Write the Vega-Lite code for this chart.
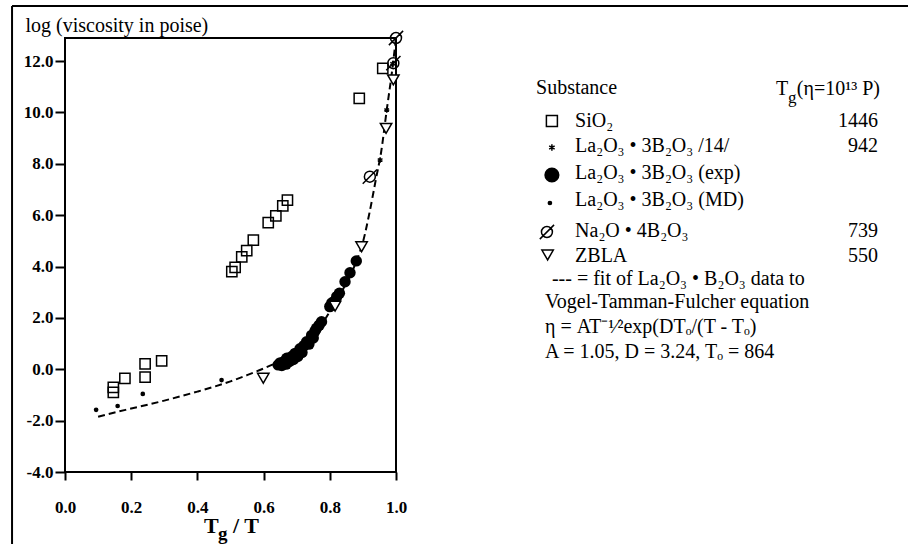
{
  "$schema": "https://vega.github.io/schema/vega-lite/v6.json",
  "width": 331,
  "height": 434,
  "autosize": {"type": "none"},
  "padding": {"left": 65, "top": 38, "right": 512, "bottom": 72},
  "background": "white",
  "config": {
    "view": {"stroke": "black", "strokeWidth": 2},
    "font": "Liberation Serif"
  },
  "datasets": {
    "pts": [
      {"s": "SiO2", "x": 0.146, "y": -0.70},
      {"s": "SiO2", "x": 0.146, "y": -0.90},
      {"s": "SiO2", "x": 0.181, "y": -0.35},
      {"s": "SiO2", "x": 0.242, "y": 0.21},
      {"s": "SiO2", "x": 0.242, "y": -0.31},
      {"s": "SiO2", "x": 0.292, "y": 0.33},
      {"s": "SiO2", "x": 0.504, "y": 3.80},
      {"s": "SiO2", "x": 0.514, "y": 3.97},
      {"s": "SiO2", "x": 0.534, "y": 4.38},
      {"s": "SiO2", "x": 0.549, "y": 4.62},
      {"s": "SiO2", "x": 0.569, "y": 5.03},
      {"s": "SiO2", "x": 0.614, "y": 5.71},
      {"s": "SiO2", "x": 0.637, "y": 5.97},
      {"s": "SiO2", "x": 0.658, "y": 6.36},
      {"s": "SiO2", "x": 0.672, "y": 6.59},
      {"s": "SiO2", "x": 0.889, "y": 10.55},
      {"s": "SiO2", "x": 0.960, "y": 11.72},
      {"s": "LMD", "x": 0.094, "y": -1.58},
      {"s": "LMD", "x": 0.159, "y": -1.43},
      {"s": "LMD", "x": 0.235, "y": -0.96},
      {"s": "LMD", "x": 0.473, "y": -0.42},
      {"s": "Lexp", "x": 0.644, "y": 0.17},
      {"s": "Lexp", "x": 0.650, "y": 0.25},
      {"s": "Lexp", "x": 0.655, "y": 0.15},
      {"s": "Lexp", "x": 0.662, "y": 0.30},
      {"s": "Lexp", "x": 0.668, "y": 0.20},
      {"s": "Lexp", "x": 0.670, "y": 0.43},
      {"s": "Lexp", "x": 0.678, "y": 0.30},
      {"s": "Lexp", "x": 0.685, "y": 0.50},
      {"s": "Lexp", "x": 0.690, "y": 0.38},
      {"s": "Lexp", "x": 0.695, "y": 0.62},
      {"s": "Lexp", "x": 0.703, "y": 0.50},
      {"s": "Lexp", "x": 0.710, "y": 0.80},
      {"s": "Lexp", "x": 0.716, "y": 0.65},
      {"s": "Lexp", "x": 0.722, "y": 0.92},
      {"s": "Lexp", "x": 0.730, "y": 1.07},
      {"s": "Lexp", "x": 0.737, "y": 0.98},
      {"s": "Lexp", "x": 0.745, "y": 1.32},
      {"s": "Lexp", "x": 0.750, "y": 1.22},
      {"s": "Lexp", "x": 0.755, "y": 1.48},
      {"s": "Lexp", "x": 0.760, "y": 1.60},
      {"s": "Lexp", "x": 0.768, "y": 1.72},
      {"s": "Lexp", "x": 0.775, "y": 1.85},
      {"s": "Lexp", "x": 0.800, "y": 2.44},
      {"s": "Lexp", "x": 0.806, "y": 2.58},
      {"s": "Lexp", "x": 0.811, "y": 2.62},
      {"s": "Lexp", "x": 0.821, "y": 2.83},
      {"s": "Lexp", "x": 0.829, "y": 2.96},
      {"s": "Lexp", "x": 0.846, "y": 3.41},
      {"s": "Lexp", "x": 0.861, "y": 3.76},
      {"s": "Lexp", "x": 0.880, "y": 4.22},
      {"s": "L14", "x": 0.952, "y": 8.15},
      {"s": "L14", "x": 0.972, "y": 10.10},
      {"s": "L14", "x": 0.990, "y": 11.90},
      {"s": "Na", "x": 0.921, "y": 7.50},
      {"s": "Na", "x": 0.992, "y": 11.92},
      {"s": "Na", "x": 1.0, "y": 12.90},
      {"s": "ZBLA", "x": 0.599, "y": -0.35},
      {"s": "ZBLA", "x": 0.816, "y": 2.46},
      {"s": "ZBLA", "x": 0.896, "y": 4.77},
      {"s": "ZBLA", "x": 0.970, "y": 9.38},
      {"s": "ZBLA", "x": 0.992, "y": 11.27}
    ],
    "fit": [
      {"x": 0.10, "y": -1.85}, {"x": 0.15, "y": -1.68}, {"x": 0.20, "y": -1.53},
      {"x": 0.25, "y": -1.38}, {"x": 0.30, "y": -1.22}, {"x": 0.35, "y": -1.05},
      {"x": 0.40, "y": -0.87}, {"x": 0.45, "y": -0.68}, {"x": 0.50, "y": -0.47},
      {"x": 0.55, "y": -0.23}, {"x": 0.60, "y": 0.03}, {"x": 0.65, "y": 0.32},
      {"x": 0.70, "y": 0.66}, {"x": 0.75, "y": 1.25}, {"x": 0.80, "y": 2.25},
      {"x": 0.83, "y": 2.90}, {"x": 0.86, "y": 3.60}, {"x": 0.88, "y": 4.20},
      {"x": 0.90, "y": 4.95}, {"x": 0.92, "y": 6.10}, {"x": 0.94, "y": 7.45},
      {"x": 0.955, "y": 8.45}, {"x": 0.972, "y": 10.10}, {"x": 0.986, "y": 11.40},
      {"x": 1.0, "y": 12.90}
    ],
    "legsym": [
      {"s": "SiO2", "x": 1.471, "y": 9.668},
      {"s": "L14", "x": 1.471, "y": 8.636},
      {"s": "Lexp", "x": 1.471, "y": 7.565},
      {"s": "LMD", "x": 1.465, "y": 6.475},
      {"s": "Na", "x": 1.456, "y": 5.345},
      {"s": "ZBLA", "x": 1.458, "y": 4.45}
    ],
    "legtext": [
      {"x": 1.423, "y": 10.72, "t": "Substance"},
      {"x": 2.148, "y": 10.68, "t": "T"},
      {"x": 2.211, "y": 10.68, "t": "(η=10¹³ P)"},
      {"x": 1.541, "y": 9.434, "t": "SiO₂"},
      {"x": 1.541, "y": 8.461, "t": "La₂O₃ • 3B₂O₃ /14/"},
      {"x": 1.541, "y": 7.409, "t": "La₂O₃ • 3B₂O₃ (exp)"},
      {"x": 1.541, "y": 6.358, "t": "La₂O₃ • 3B₂O₃ (MD)"},
      {"x": 1.541, "y": 5.151, "t": "Na₂O • 4B₂O₃"},
      {"x": 1.541, "y": 4.177, "t": "ZBLA"},
      {"x": 1.471, "y": 3.282, "t": "--- = fit of La₂O₃ • B₂O₃ data to"},
      {"x": 1.450, "y": 2.386, "t": "Vogel-Tamman-Fulcher equation"},
      {"x": 1.450, "y": 1.412, "t": "η = AT⁻¹⁄²exp(DTₒ/(T - Tₒ)"},
      {"x": 1.450, "y": 0.439, "t": "A = 1.05,  D = 3.24,  Tₒ = 864"}
    ],
    "legnum": [
      {"x": 2.456, "y": 9.434, "t": "1446"},
      {"x": 2.456, "y": 8.461, "t": "942"},
      {"x": 2.456, "y": 5.151, "t": "739"},
      {"x": 2.456, "y": 4.177, "t": "550"}
    ],
    "legsub": [
      {"x": 2.184, "y": 10.68, "t": "g"}
    ],
    "xt": [
      {"x": 0.420, "y": -6.376, "t": "T"},
      {"x": 0.5076, "y": -6.376, "t": "/ T"}
    ],
    "xsub": [
      {"x": 0.462, "y": -6.376, "t": "g"}
    ],
    "frame": [
      {"x": -0.16, "x2": 2.56, "y": 14.15, "y2": 14.15},
      {"x": -0.16, "x2": -0.16, "y": 14.15, "y2": -7.0}
    ]
  },
  "encoding": {
    "x": {
      "field": "x",
      "type": "quantitative",
      "scale": {"domain": [0, 1], "nice": false, "zero": false},
      "axis": {
        "values": [0, 0.2, 0.4, 0.6, 0.8, 1.0],
        "labelExpr": "format(datum.value, '.1f')",
        "grid": false,
        "domain": false,
        "tickSize": 8,
        "tickWidth": 2,
        "tickColor": "black",
        "labelFont": "Liberation Serif",
        "labelFontSize": 17,
        "labelFontWeight": "bold",
        "labelColor": "black",
        "labelPadding": 32,
        "labelBaseline": "alphabetic",
        "labelFlush": false,
        "labelOverlap": false,
        "title": null
      }
    },
    "y": {
      "field": "y",
      "type": "quantitative",
      "scale": {"domain": [-4, 12.9], "nice": false, "zero": false},
      "axis": {
        "values": [-4, -2, 0, 2, 4, 6, 8, 10, 12],
        "labelExpr": "(datum.value < 0 ? '-' : '') + format(abs(datum.value), '.1f')",
        "grid": false,
        "domain": false,
        "tickSize": 10,
        "tickWidth": 2,
        "tickColor": "black",
        "labelFont": "Liberation Serif",
        "labelFontSize": 17,
        "labelFontWeight": "bold",
        "labelColor": "black",
        "labelPadding": 2,
        "labelFlush": false,
        "labelOverlap": false,
        "title": "log (viscosity in poise)",
        "titleAngle": 0,
        "titleAlign": "left",
        "titleBaseline": "alphabetic",
        "titleX": -40,
        "titleY": -7,
        "titleFont": "Liberation Serif",
        "titleFontSize": 20,
        "titleFontWeight": "normal",
        "titleColor": "black"
      }
    }
  },
  "layer": [
    {
      "data": {"name": "frame"},
      "mark": {"type": "rule", "color": "black", "strokeWidth": 2},
      "encoding": {"x2": {"field": "x2"}, "y2": {"field": "y2"}}
    },
    {
      "data": {"name": "fit"},
      "mark": {"type": "line", "color": "black", "strokeWidth": 2, "strokeDash": [7, 4], "interpolate": "monotone"},
      "encoding": {}
    },
    {
      "data": {"name": "pts"},
      "transform": [{"filter": "datum.s === 'SiO2'"}],
      "mark": {"type": "point", "shape": "square", "filled": false, "stroke": "black", "strokeWidth": 1.5, "size": 105, "opacity": 1}
    },
    {
      "data": {"name": "pts"},
      "transform": [{"filter": "datum.s === 'LMD'"}],
      "mark": {"type": "point", "shape": "circle", "filled": true, "fill": "black", "size": 22, "opacity": 1}
    },
    {
      "data": {"name": "pts"},
      "transform": [{"filter": "datum.s === 'Lexp'"}],
      "mark": {"type": "point", "shape": "circle", "filled": true, "fill": "black", "size": 130, "opacity": 1}
    },
    {
      "data": {"name": "pts"},
      "transform": [{"filter": "datum.s === 'L14'"}],
      "mark": {"type": "point", "shape": "M0,-1L0,1M-0.866,-0.5L0.866,0.5M-0.866,0.5L0.866,-0.5", "filled": false, "stroke": "black", "strokeWidth": 1.5, "size": 30, "opacity": 1}
    },
    {
      "data": {"name": "pts"},
      "transform": [{"filter": "datum.s === 'Na'"}],
      "mark": {"type": "point", "shape": "M1,0A1,1,0,1,1,-1,0A1,1,0,1,1,1,0ZM-1.3,1.3L1.3,-1.3", "filled": false, "stroke": "black", "strokeWidth": 1.5, "size": 120, "opacity": 1}
    },
    {
      "data": {"name": "pts"},
      "transform": [{"filter": "datum.s === 'ZBLA'"}],
      "mark": {"type": "point", "shape": "triangle-down", "filled": true, "fill": "white", "stroke": "black", "strokeWidth": 1.5, "size": 130, "opacity": 1}
    },
    {
      "data": {"name": "legsym"},
      "transform": [{"filter": "datum.s === 'SiO2'"}],
      "mark": {"type": "point", "shape": "square", "filled": false, "stroke": "black", "strokeWidth": 1.5, "size": 121, "opacity": 1}
    },
    {
      "data": {"name": "legsym"},
      "transform": [{"filter": "datum.s === 'LMD'"}],
      "mark": {"type": "point", "shape": "circle", "filled": true, "fill": "black", "size": 22, "opacity": 1}
    },
    {
      "data": {"name": "legsym"},
      "transform": [{"filter": "datum.s === 'Lexp'"}],
      "mark": {"type": "point", "shape": "circle", "filled": true, "fill": "black", "size": 230, "opacity": 1}
    },
    {
      "data": {"name": "legsym"},
      "transform": [{"filter": "datum.s === 'L14'"}],
      "mark": {"type": "point", "shape": "M0,-1L0,1M-0.866,-0.5L0.866,0.5M-0.866,0.5L0.866,-0.5", "filled": false, "stroke": "black", "strokeWidth": 1.5, "size": 40, "opacity": 1}
    },
    {
      "data": {"name": "legsym"},
      "transform": [{"filter": "datum.s === 'Na'"}],
      "mark": {"type": "point", "shape": "M1,0A1,1,0,1,1,-1,0A1,1,0,1,1,1,0ZM-1.3,1.3L1.3,-1.3", "filled": false, "stroke": "black", "strokeWidth": 1.5, "size": 120, "opacity": 1}
    },
    {
      "data": {"name": "legsym"},
      "transform": [{"filter": "datum.s === 'ZBLA'"}],
      "mark": {"type": "point", "shape": "triangle-down", "filled": true, "fill": "white", "stroke": "black", "strokeWidth": 1.5, "size": 130, "opacity": 1}
    },
    {
      "data": {"name": "legtext"},
      "mark": {"type": "text", "align": "left", "baseline": "alphabetic", "font": "Liberation Serif", "fontSize": 20, "color": "black"},
      "encoding": {"text": {"field": "t"}}
    },
    {
      "data": {"name": "legnum"},
      "mark": {"type": "text", "align": "right", "baseline": "alphabetic", "font": "Liberation Serif", "fontSize": 20, "color": "black"},
      "encoding": {"text": {"field": "t"}}
    },
    {
      "data": {"name": "legsub"},
      "mark": {"type": "text", "align": "left", "baseline": "alphabetic", "font": "Liberation Serif", "fontSize": 17, "dy": 8, "color": "black"},
      "encoding": {"text": {"field": "t"}}
    },
    {
      "data": {"name": "xt"},
      "mark": {"type": "text", "align": "left", "baseline": "alphabetic", "font": "Liberation Serif", "fontSize": 22, "fontWeight": "bold", "color": "black"},
      "encoding": {"text": {"field": "t"}}
    },
    {
      "data": {"name": "xsub"},
      "mark": {"type": "text", "align": "left", "baseline": "alphabetic", "font": "Liberation Serif", "fontSize": 19, "fontWeight": "bold", "dy": 7, "color": "black"},
      "encoding": {"text": {"field": "t"}}
    }
  ]
}
